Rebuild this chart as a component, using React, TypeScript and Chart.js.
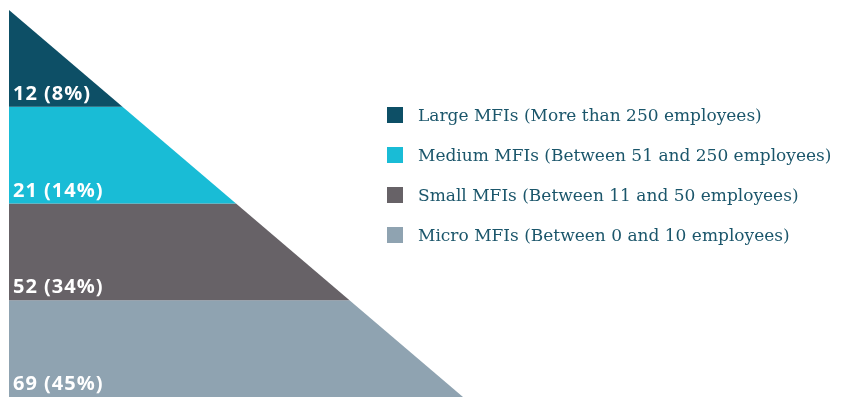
import React, { useEffect, useRef } from "react";
import { Chart, registerables } from "chart.js";

Chart.register(...registerables);

const categories = [
  "Large MFIs (More than 250 employees)",
  "Medium MFIs (Between 51 and 250 employees)",
  "Small MFIs (Between 11 and 50 employees)",
  "Micro MFIs (Between 0 and 10 employees)",
];
const counts = [12, 21, 52, 69];
const percents = [8, 14, 34, 45];
const colors = ["#0d4f66", "#19bcd6", "#676267", "#8fa3b1"];

const LEVELS = categories.length;

const labelPlugin = {
  id: "bandLabels",
  afterDatasetsDraw(chart: any) {
    const { ctx, scales } = chart;
    const x = scales.x;
    const y = scales.y;
    ctx.save();
    ctx.fillStyle = "#ffffff";
    ctx.font = "bold 20px 'Open Sans'";
    try {
      (ctx as any).letterSpacing = "1px";
    } catch (e) {}
    ctx.textAlign = "left";
    ctx.textBaseline = "alphabetic";
    counts.forEach((c, i) => {
      const yBot = LEVELS - 1 - i;
      const px = x.getPixelForValue(0) + 4;
      const py = y.getPixelForValue(yBot) - 7;
      ctx.fillText(`${c} (${percents[i]}%)`, px, py);
    });
    ctx.restore();
  },
};

export default function App() {
  const ref = useRef<HTMLCanvasElement | null>(null);
  useEffect(() => {
    if (!ref.current) return;
    const datasets = categories.map((name, i) => {
      const yTop = LEVELS - i;
      const yBot = LEVELS - 1 - i;
      return {
        label: name,
        data: [
          { x: 0, y: yTop },
          { x: LEVELS - yTop, y: yTop },
          { x: LEVELS - yBot, y: yBot },
          { x: 0, y: yBot },
          { x: 0, y: yTop },
        ],
        showLine: true,
        fill: "shape",
        backgroundColor: colors[i],
        borderColor: colors[i],
        borderWidth: 0,
        pointRadius: 0,
        tension: 0,
      };
    });
    const chart = new Chart(ref.current, {
      type: "scatter",
      data: { datasets: datasets as any },
      options: {
        animation: false,
        responsive: false,
        layout: { padding: { left: 9, top: 10, right: 387, bottom: 0 } },
        scales: {
          x: { type: "linear", min: 0, max: LEVELS, display: false },
          y: { type: "linear", min: 0, max: LEVELS, display: false },
        },
        plugins: { legend: { display: false }, tooltip: { enabled: false } },
      },
      plugins: [labelPlugin],
    });
    return () => chart.destroy();
  }, []);

  return (
    <div style={{ position: "fixed", left: 0, top: 0, width: 850, height: 397, background: "#fff" }}>
      <canvas ref={ref} width={850} height={397} style={{ position: "absolute", left: 0, top: 0 }} />
      {categories.map((name, i) => (
        <div
          key={name}
          style={{
            position: "absolute",
            left: 387,
            top: 115 + i * 40 - 11,
            height: 22,
            display: "flex",
            alignItems: "center",
            whiteSpace: "nowrap",
          }}
        >
          <span style={{ display: "inline-block", width: 16, height: 16, background: colors[i] }} />
          <span
            style={{
              marginLeft: 15,
              fontFamily: "'DejaVu Serif'",
              fontSize: 17,
              color: "#1b566b",
            }}
          >
            {name}
          </span>
        </div>
      ))}
    </div>
  );
}
